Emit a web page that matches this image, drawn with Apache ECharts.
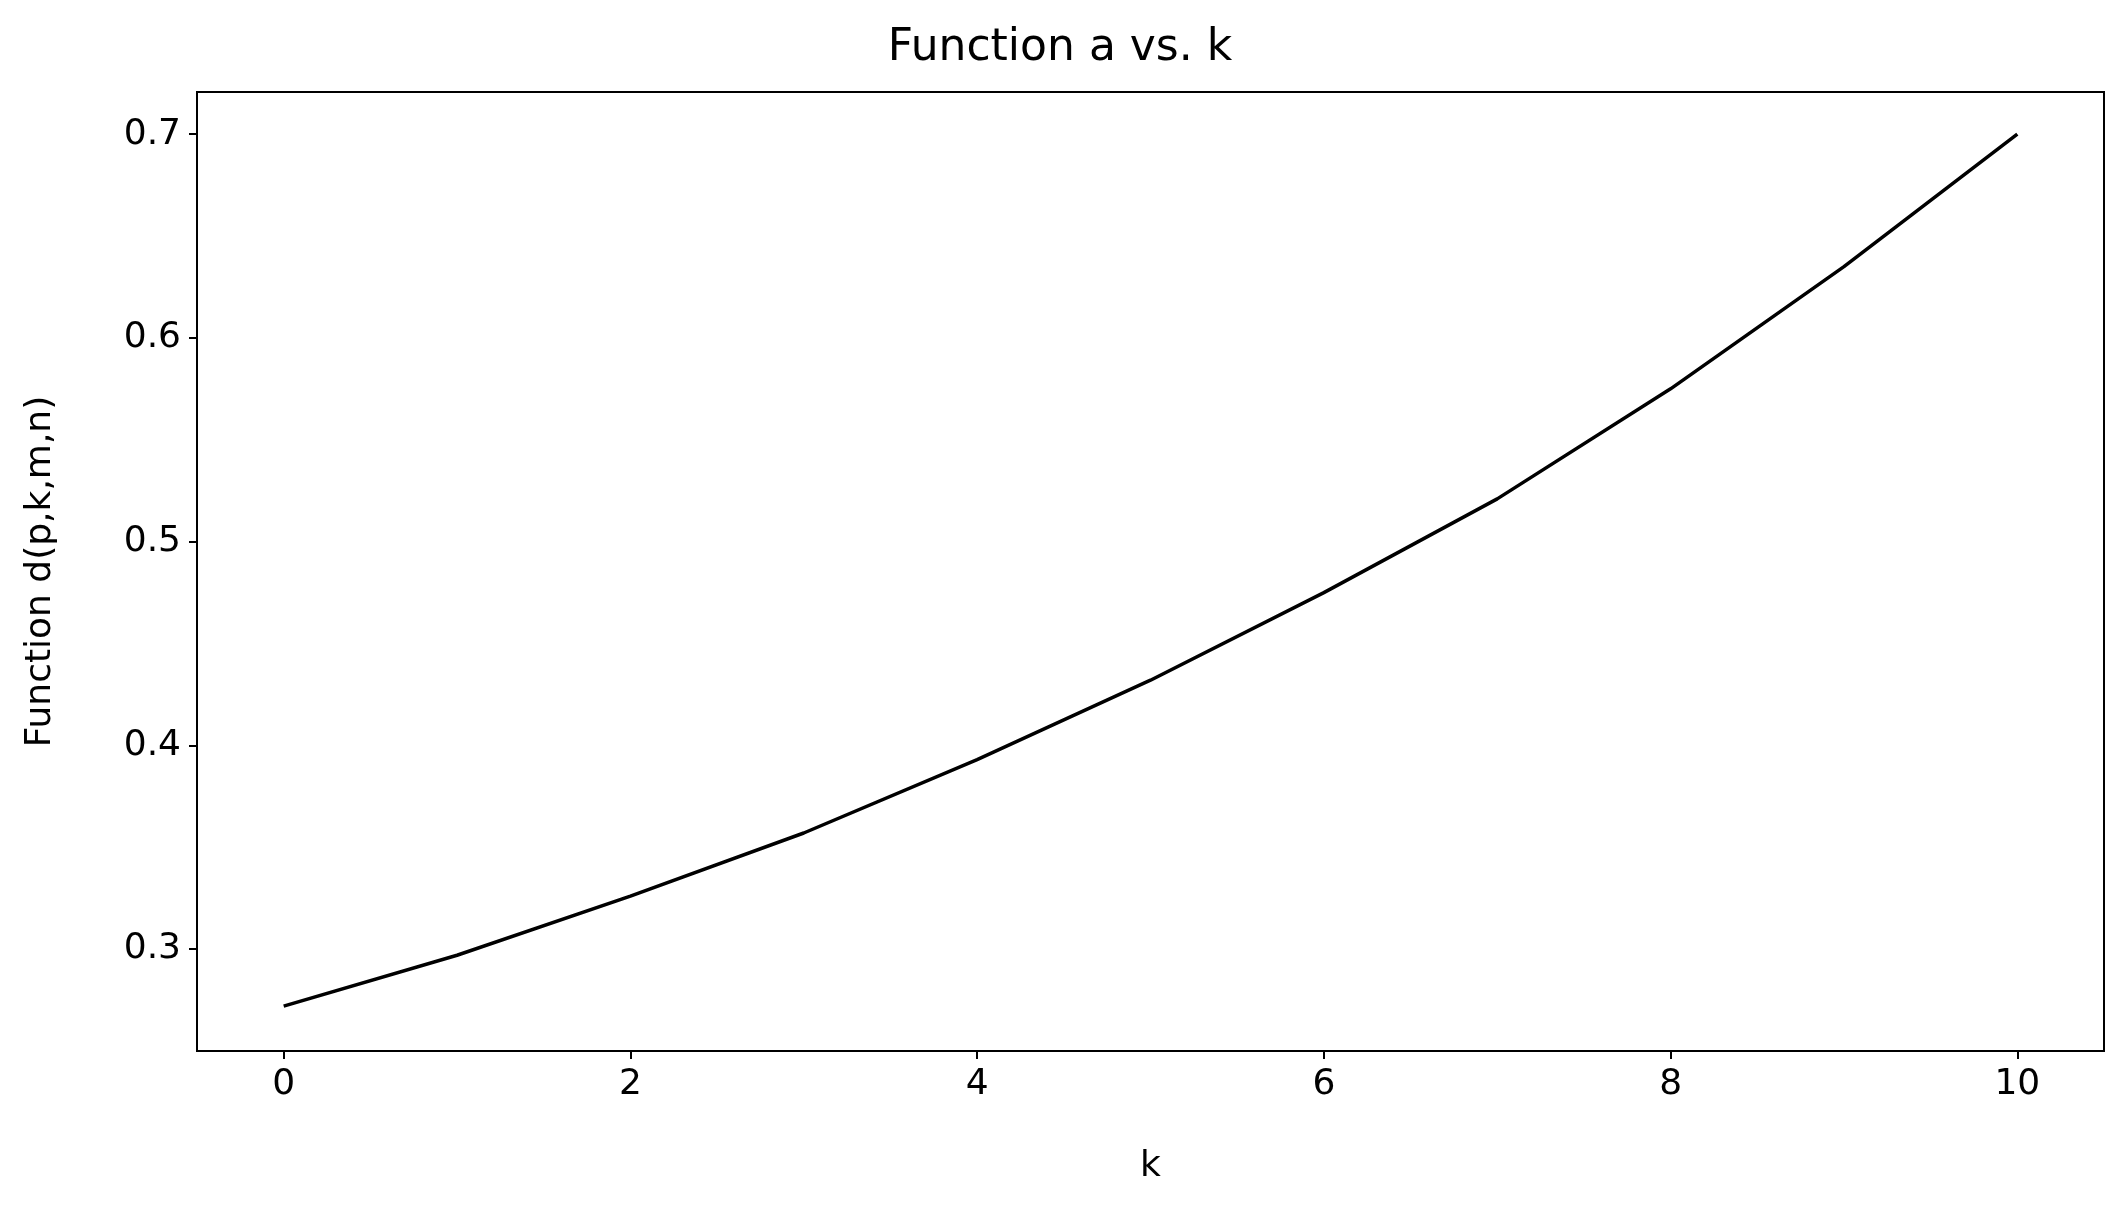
<!DOCTYPE html>
<html><head><meta charset="utf-8">
<script src="https://cdn.jsdelivr.net/npm/echarts@6/dist/echarts.min.js"></script>
<style>html,body{margin:0;padding:0;background:#fff}#main{width:2120px;height:1214px}</style>
</head><body><div id="main"></div>
<script>
var kValues = [0, 1, 2, 3, 4, 5, 6, 7, 8, 9, 10];
var dValues = [0.272, 0.297, 0.326, 0.357, 0.393, 0.432, 0.475, 0.521, 0.575, 0.635, 0.700];
var xTicks = [0, 2, 4, 6, 8, 10];
var yTicks = [0.3, 0.4, 0.5, 0.6, 0.7];

var myChart = echarts.init(document.getElementById('main'));
var font = 'DejaVu Sans';
var data = [];
for (var i = 0; i < kValues.length; i++) {
	data.push([kValues[i], dValues[i]]);
}

var option = {
	animation: false,
	title: {
		text: 'Function a vs. k',
		left: 'center',
		top: 22,
		textStyle: {fontFamily: font, fontSize: 44, fontWeight: 'normal', color: '#000'}
	},
	grid: {left: 197, right: 16, top: 92, bottom: 163},
	xAxis: {
		type: 'value', min: -0.5, max: 10.5,
		name: 'k', nameLocation: 'middle', nameGap: 98,
		nameTextStyle: {fontFamily: font, fontSize: 36, color: '#000'},
		axisLine: {onZero: false, lineStyle: {color: '#000', width: 2}},
		axisTick: {customValues: xTicks, length: 8, lineStyle: {color: '#000', width: 2}},
		axisLabel: {customValues: xTicks, fontFamily: font, fontSize: 36, color: '#000', margin: 16},
		splitLine: {show: false}
	},
	yAxis: {
		type: 'value', min: 0.25, max: 0.7207,
		name: 'Function d(p,k,m,n)', nameLocation: 'middle', nameGap: 138,
		nameTextStyle: {fontFamily: font, fontSize: 36, color: '#000'},
		axisLine: {show: true, onZero: false, lineStyle: {color: '#000', width: 2}},
		axisTick: {show: true, customValues: yTicks, length: 8, lineStyle: {color: '#000', width: 2}},
		axisLabel: {customValues: yTicks, fontFamily: font, fontSize: 36, color: '#000', margin: 16,
			formatter: function (v) { return v.toFixed(1); }},
		splitLine: {show: false}
	},
	series: [{
		type: 'line', data: data, showSymbol: false,
		lineStyle: {color: '#000', width: 3.5}
	}],
	graphic: [{
		type: 'rect', shape: {x: 197, y: 92, width: 1907, height: 959},
		style: {fill: 'none', stroke: '#000', lineWidth: 2}, silent: true
	}]
};
myChart.setOption(option);
</script>
</body></html>
